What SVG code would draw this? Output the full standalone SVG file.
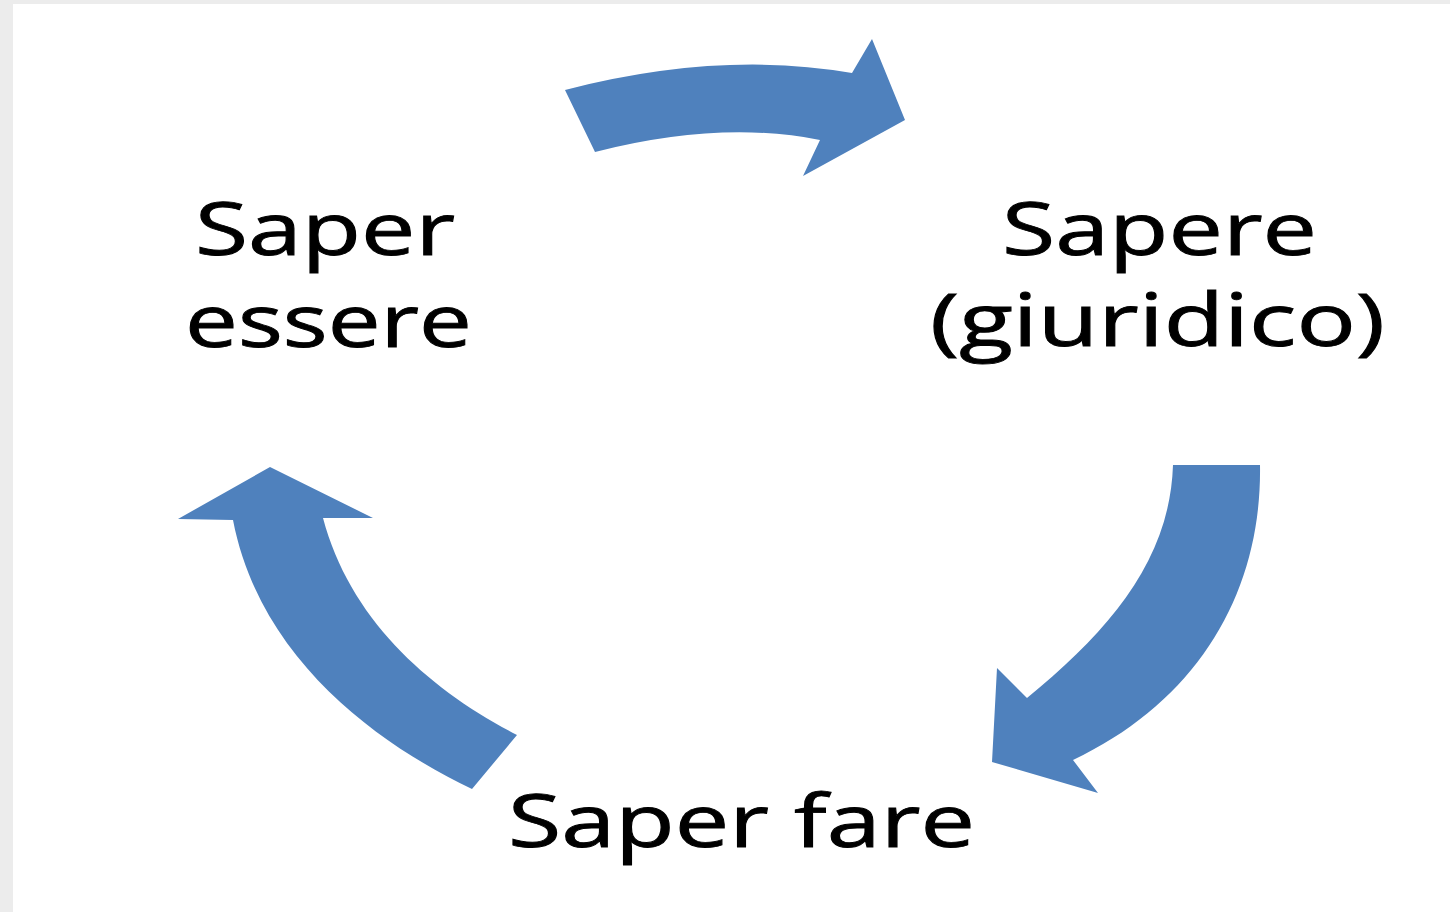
<svg xmlns="http://www.w3.org/2000/svg" width="1450" height="912" viewBox="0 0 1450 912">
<style>
.lbl{font-family:"Open Sans","Noto Sans","Liberation Sans",sans-serif;font-size:73px;fill:#000;stroke:#000;stroke-width:0.9px}
.arr{fill:#4F81BD}
</style>
<rect x="0" y="0" width="1450" height="912" fill="#ececec"/>
<rect x="13" y="4" width="1437" height="908" fill="#ffffff"/>
<g id="connectors">
<path class="arr" d="M565,90 Q720,50 852,73 L872,39 L905,120 L803,176 L820,140 Q720,120 595,152 Z"/>
<path class="arr" d="M1173,465 L1260,465 C1262,590 1200,700 1073,760 L1098,793 L992,762 L997,668 L1027,698 C1110,630 1170,560 1173,465 Z"/>
<path class="arr" d="M270,467 L373,518 L323,518 C350,620 430,690 517,735 L472,789 C380,745 260,660 233,520 L178,519 Z"/>
</g>
<g id="node-saper-essere">
<text class="lbl" x="195" y="255" textLength="260" lengthAdjust="spacingAndGlyphs">Saper</text>
<text class="lbl" x="185" y="347" textLength="287" lengthAdjust="spacingAndGlyphs">essere</text>
</g>
<g id="node-sapere">
<text class="lbl" x="1002" y="255" textLength="315" lengthAdjust="spacingAndGlyphs">Sapere</text>
<text class="lbl" x="930" y="346" textLength="455" lengthAdjust="spacingAndGlyphs">(giuridico)</text>
</g>
<g id="node-saper-fare">
<text class="lbl" x="508" y="847" textLength="467" lengthAdjust="spacingAndGlyphs">Saper fare</text>
</g>
</svg>
